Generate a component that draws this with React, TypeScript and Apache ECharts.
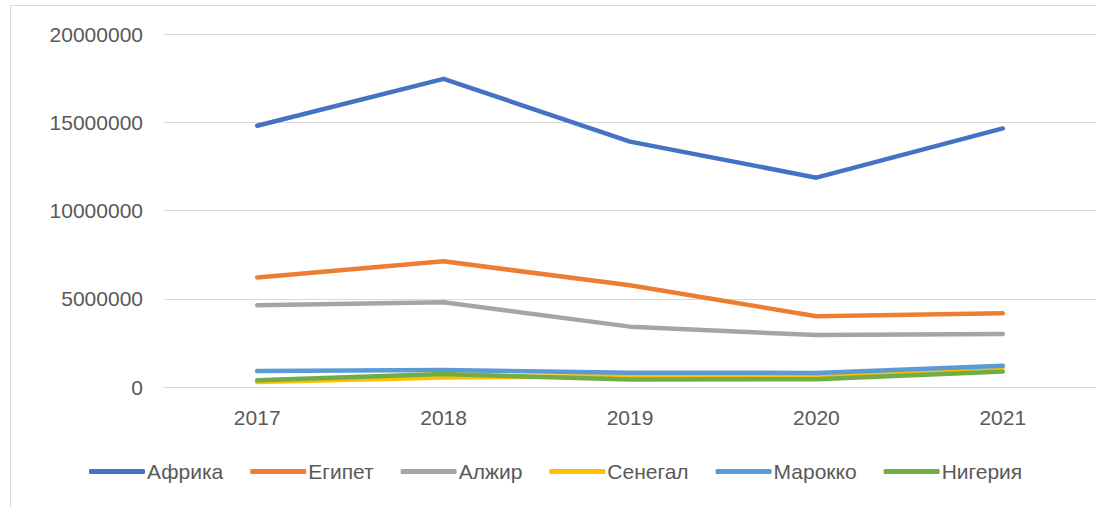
import React, { useEffect, useRef } from "react";
import * as echarts from "echarts";

const years = ["2017", "2018", "2019", "2020", "2021"];
const seriesNames = ["Африка", "Египет", "Алжир", "Сенегал", "Марокко", "Нигерия"];
const afrika = [14800000, 17460000, 13900000, 11860000, 14650000];
const egipet = [6210000, 7120000, 5760000, 4010000, 4180000];
const alzhir = [4630000, 4800000, 3420000, 2940000, 3000000];
const senegal = [280000, 540000, 620000, 640000, 1120000];
const marokko = [900000, 960000, 810000, 800000, 1200000];
const nigeria = [380000, 730000, 420000, 440000, 880000];
const colors = ["#4472C4", "#ED7D31", "#A5A5A5", "#FFC000", "#5B9BD5", "#70AD47"];
const yTicks = { min: 0, max: 20000000, interval: 5000000 };

export default function App() {
  const ref = useRef<HTMLDivElement>(null);
  useEffect(() => {
    if (!ref.current) return;
    const chart = echarts.init(ref.current, null, { renderer: "svg" });
    const data = [afrika, egipet, alzhir, senegal, marokko, nigeria];
    const font = "Liberation Sans";
    chart.setOption({
      animation: false,
      color: colors,
      graphic: [
        {
          type: "rect",
          shape: { x: 10.5, y: 5.5, width: 1200, height: 700 },
          style: { fill: "none", stroke: "#d9d9d9", lineWidth: 1 },
          silent: true,
        },
      ],
      grid: { left: 164, top: 34, width: 938, height: 353, containLabel: false },
      xAxis: {
        type: "category",
        data: years,
        boundaryGap: true,
        axisLine: { lineStyle: { color: "#d9d9d9", width: 1 } },
        axisTick: { show: false },
        axisLabel: { color: "#595959", fontFamily: font, fontSize: 21, margin: 20 },
      },
      yAxis: {
        type: "value",
        min: yTicks.min,
        max: yTicks.max,
        interval: yTicks.interval,
        axisLine: { show: false },
        axisTick: { show: false },
        splitLine: { lineStyle: { color: "#d9d9d9", width: 1 } },
        axisLabel: {
          color: "#595959",
          fontFamily: font,
          fontSize: 21,
          margin: 21,
          formatter: (v: number) => String(v),
        },
      },
      legend: {
        left: 84,
        top: 456,
        icon: "roundRect",
        itemWidth: 56,
        itemHeight: 5,
        itemGap: 27,
        textStyle: { color: "#595959", fontFamily: font, fontSize: 21, padding: [0, 0, 0, -3] },
        data: seriesNames,
      },
      series: seriesNames.map((name, i) => ({
        name,
        type: "line",
        data: data[i],
        showSymbol: false,
        symbol: "none",
        lineStyle: { width: 4.5, color: colors[i], cap: "round", join: "round" },
        itemStyle: { color: colors[i] },
      })),
    });
    return () => chart.dispose();
  }, []);
  return (
    <div
      ref={ref}
      style={{ position: "fixed", left: 0, top: 0, width: 1096, height: 507, background: "#fff" }}
    />
  );
}
